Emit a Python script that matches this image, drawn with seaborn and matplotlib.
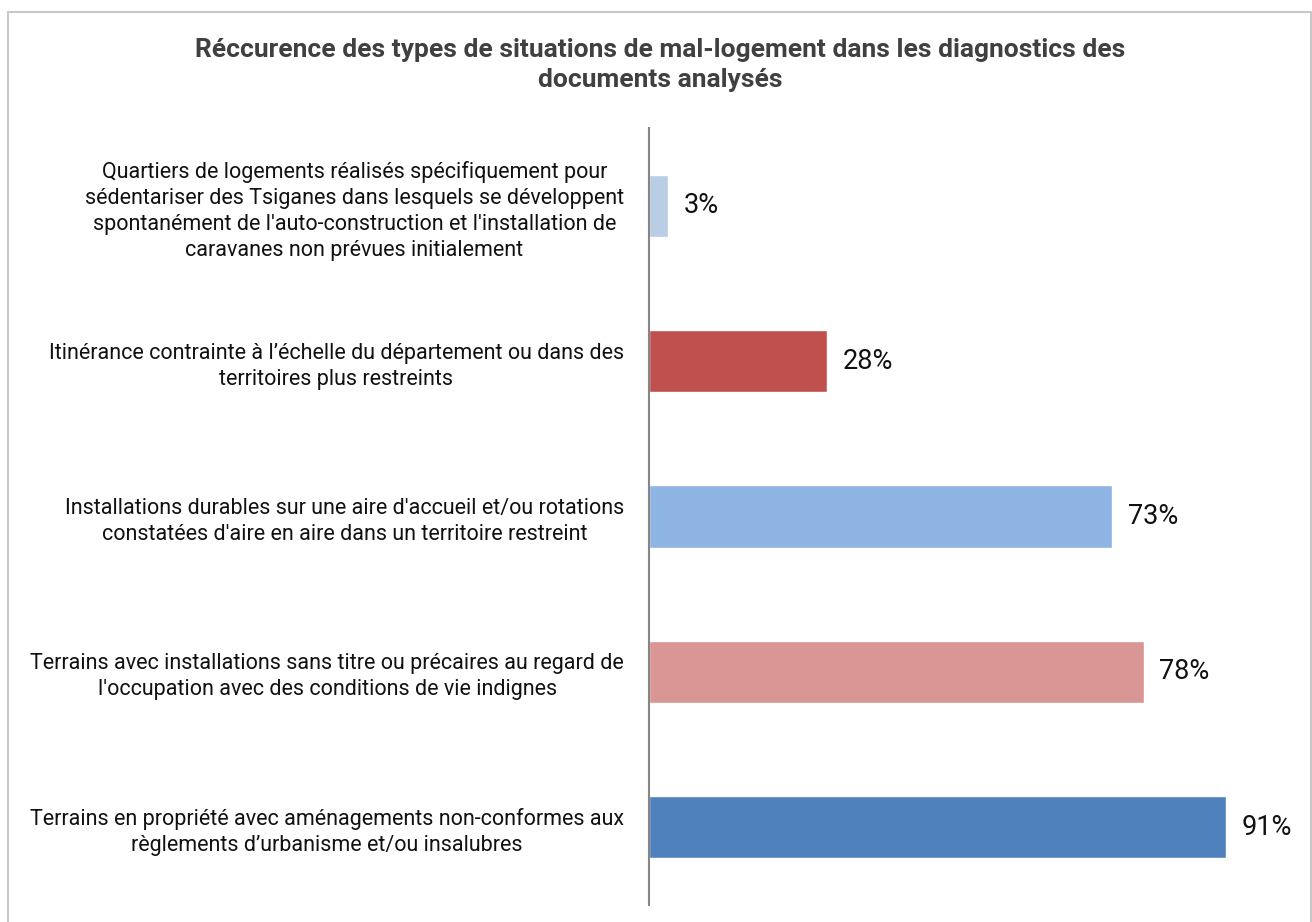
import matplotlib
matplotlib.use("Agg")
import matplotlib.pyplot as plt
import matplotlib.patches as patches
import seaborn as sns
import pandas as pd

categories = [
    "Quartiers de logements réalisés spécifiquement pour\nsédentariser des Tsiganes dans lesquels se développent\nspontanément de l'auto-construction et l'installation de\ncaravanes non prévues initialement",
    "Itinérance contrainte à l’échelle du département ou dans des\nterritoires plus restreints",
    "Installations durables sur une aire d'accueil et/ou rotations\nconstatées d'aire en aire dans un territoire restreint",
    "Terrains avec installations sans titre ou précaires au regard de\nl'occupation avec des conditions de vie indignes",
    "Terrains en propriété avec aménagements non-conformes aux\nrèglements d’urbanisme et/ou insalubres",
]
values = [3, 28, 73, 78, 91]
colors = ["#B9CDE5", "#C0504D", "#8EB4E3", "#D99694", "#4F81BD"]
title = "Réccurence des types de situations de mal-logement dans les diagnostics des\ndocuments analysés"

df = pd.DataFrame({"cat": categories, "val": values})

sns.set_theme(style="white")
plt.rcParams["font.family"] = ["Roboto", "DejaVu Sans"]

W, H = 1312, 922
fig = plt.figure(figsize=(W / 100, H / 100), dpi=100)
ax = fig.add_axes([649 / W, 1 - 905 / H, (1283 - 649) / W, (905 - 128) / H])

sns.barplot(data=df, y="cat", x="val", hue="cat", palette=colors, width=0.4,
            legend=False, ax=ax, saturation=1)

ax.set_xlim(0, 100)
ax.set_ylim(4.5, -0.5)
ax.set_xlabel("")
ax.set_ylabel("")
ax.set_xticks([])
for s in ["top", "right", "bottom"]:
    ax.spines[s].set_visible(False)
ax.spines["left"].set_color("#868686")
ax.spines["left"].set_linewidth(1.5)
ax.tick_params(axis="y", length=0, pad=18, labelsize=15.5, labelcolor="#111111")
for lbl in ax.get_yticklabels():
    lbl.set_multialignment("center")
    lbl.set_linespacing(1.31)

for cont in ax.containers:
    ax.bar_label(cont, fmt="%d%%", padding=11.5, fontsize=19.5, color="#111111")

fig.text(660 / W, 1 - 65 / H, title, ha="center", va="center", fontsize=19,
         fontweight="bold", color="#404040", linespacing=1.3)

border = patches.Rectangle((8 / W, -0.01), 1303 / W, (H - 12) / H + 0.01,
                           transform=fig.transFigure, fill=False,
                           edgecolor="#C8C8C8", linewidth=1.5)
fig.patches.append(border)

fig.savefig("out.png", dpi=100)
